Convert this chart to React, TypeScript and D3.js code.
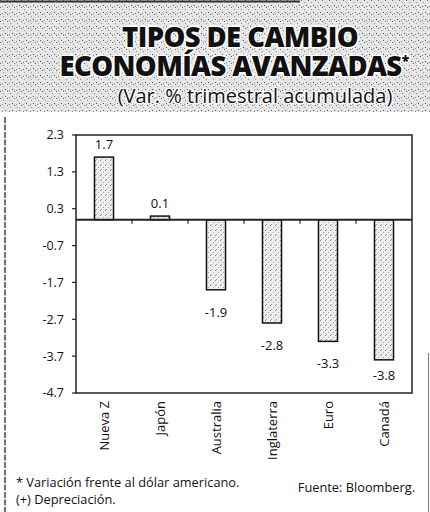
import React from "react";
import * as d3 from "d3";

const categories = ["Nueva Z", "Japón", "Australia", "Inglaterra", "Euro", "Canadá"];
const values = [1.7, 0.1, -1.9, -2.8, -3.3, -3.8];
const valueLabels = ["1.7", "0.1", "-1.9", "-2.8", "-3.3", "-3.8"];
const yTicks = [2.3, 1.3, 0.3, -0.7, -1.7, -2.7, -3.7, -4.7];
const titleLines = ["TIPOS DE CAMBIO", "ECONOMÍAS AVANZADAS"];
const subtitle = "(Var. % trimestral acumulada)";
const footnotes = ["* Variación frente al dólar americano.", "(+) Depreciación."];
const source = "Fuente: Bloomberg.";

const W = 430;
const H = 512;
const plot = { left: 76, right: 412, top: 135, bottom: 393 };

export default function App() {
  const x = d3
    .scaleBand<string>()
    .domain(categories)
    .range([plot.left, plot.right])
    .paddingInner(0.66)
    .paddingOuter(0.33);
  const band = d3.scaleBand<string>().domain(categories).range([plot.left, plot.right]);
  const y = d3.scaleLinear().domain([-4.7, 2.3]).range([plot.bottom, plot.top]);
  const y0 = y(0);
  const font = "'Open Sans', 'Noto Sans', sans-serif";

  return (
    <svg width={W} height={H} style={{ position: "absolute", left: 0, top: 0, background: "#fff" }}>
      <defs>
        <pattern id="bg" width="7" height="7" patternUnits="userSpaceOnUse">
          <rect width="7" height="7" fill="#e4e4e4" />
          <rect x="0" y="0" width="1" height="1" fill="#666" />
          <rect x="3" y="2" width="1" height="1" fill="#999" />
          <rect x="5" y="5" width="1" height="1" fill="#555" />
          <rect x="1" y="4" width="1" height="1" fill="#fff" />
          <rect x="4" y="6" width="1" height="1" fill="#fff" />
          <rect x="6" y="1" width="1" height="1" fill="#fff" />
          <rect x="2" y="6" width="1" height="1" fill="#888" />
        </pattern>
        <pattern id="bar" width="5" height="5" patternUnits="userSpaceOnUse">
          <rect width="5" height="5" fill="#eeeeee" />
          <rect x="0" y="0" width="1" height="1" fill="#888" />
          <rect x="3" y="2" width="1" height="1" fill="#aaa" />
          <rect x="1" y="4" width="1" height="1" fill="#999" />
        </pattern>
      </defs>

      {/* title band */}
      <rect x={0} y={0} width={W} height={112} fill="url(#bg)" />
      <line x1={0} x2={300} y1={1.5} y2={1.5} stroke="#333" strokeWidth={2} />
      <g fontFamily={font} textAnchor="middle" fill="#111" stroke="#fff" strokeWidth={3} paintOrder="stroke" strokeLinejoin="round">
        <text fontSize={27.5} fontWeight={800} letterSpacing={-0.6}>
          <tspan x={240} y={47}>{titleLines[0]}</tspan>
          <tspan x={234} y={76}>{titleLines[1]}</tspan>
          <tspan fontSize={14} dy={-10}>*</tspan>
        </text>
        <text x={255} y={103} fontSize={20} fontWeight={400} strokeWidth={2.5}>{subtitle}</text>
      </g>

      {/* frame */}
      <line x1={5} x2={5} y1={117} y2={H} stroke="#444" strokeWidth={1.5} strokeDasharray="6 1.5" />
      <line x1={428.5} x2={428.5} y1={353} y2={H} stroke="#777" strokeWidth={1} />

      {/* plot box */}
      <rect
        x={plot.left}
        y={plot.top}
        width={plot.right - plot.left}
        height={plot.bottom - plot.top}
        fill="none"
        stroke="#222"
        strokeWidth={1.5}
      />

      {/* y ticks */}
      <g fontFamily={font} fontSize={12.5} fill="#111">
        {yTicks.map((t) => (
          <g key={t}>
            <line x1={plot.left - 4} x2={plot.left} y1={y(t)} y2={y(t)} stroke="#222" strokeWidth={1.2} />
            <text x={plot.left - 12} y={y(t)} dy="0.35em" textAnchor="end">
              {t.toFixed(1)}
            </text>
          </g>
        ))}
      </g>

      {/* bars */}
      {categories.map((c, i) => {
        const v = values[i];
        const top = Math.min(y(v), y0);
        const h = Math.abs(y(v) - y0);
        return (
          <rect
            key={c}
            x={x(c)}
            y={top}
            width={x.bandwidth()}
            height={h}
            fill="url(#bar)"
            stroke="#111"
            strokeWidth={1.5}
          />
        );
      })}

      {/* zero line with category ticks */}
      <line x1={plot.left} x2={plot.right} y1={y0} y2={y0} stroke="#222" strokeWidth={1.8} />
      {categories.slice(1).map((c) => (
        <line key={c} x1={band(c)!} x2={band(c)!} y1={y0} y2={y0 + 4} stroke="#222" strokeWidth={1.2} />
      ))}

      {/* value labels */}
      <g fontFamily={font} fontSize={13} fill="#111" textAnchor="middle">
        {categories.map((c, i) => {
          const v = values[i];
          const cx = x(c)! + x.bandwidth() / 2;
          const ly = v >= 0 ? y(v) - 8 : Math.min(y(v) + 27, 380);
          return (
            <text key={c} x={cx} y={ly}>
              {valueLabels[i]}
            </text>
          );
        })}
      </g>

      {/* category labels */}
      <g fontFamily={font} fontSize={13} fill="#111">
        {categories.map((c) => {
          const cx = band(c)! + band.bandwidth() / 2;
          return (
            <text key={c} transform={`translate(${cx + 4.5},${plot.bottom + 8}) rotate(-90)`} textAnchor="end">
              {c}
            </text>
          );
        })}
      </g>

      {/* footnotes */}
      <g fontFamily={font} fontSize={12.8} fill="#111">
        <text x={16} y={487}>{footnotes[0]}</text>
        <text x={16} y={504}>{footnotes[1]}</text>
        <text x={415} y={492} textAnchor="end">{source}</text>
      </g>
    </svg>
  );
}
